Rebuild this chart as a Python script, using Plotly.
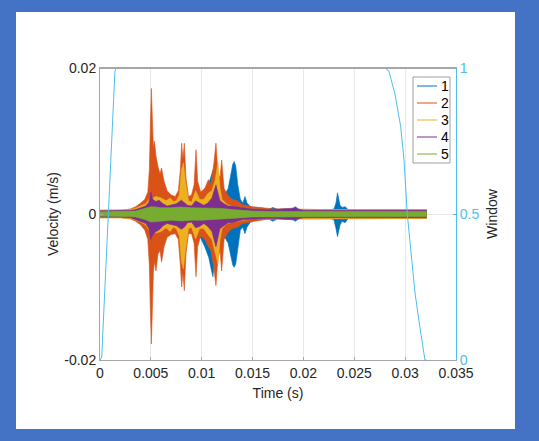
import numpy as np
import plotly.graph_objects as go

# ---------------------------------------------------------------------------
# Velocity records of five channels, drawn as their oscillation envelopes.
# Times in ms, envelope amplitudes (upper / lower) in mm/s.
# ---------------------------------------------------------------------------
names = ["1", "2", "3", "4", "5"]
colors = ["#0072BD", "#D95319", "#EDB120", "#7E2F8E", "#77AC30"]

s1_t = [0, 2, 3, 4, 5, 6, 7, 8, 9, 9.8, 10.3, 10.7, 11.0, 11.1, 11.25, 11.5, 11.8, 12.2,
        12.6, 12.9, 13.05, 13.2, 13.35, 13.55, 13.8, 14.05, 14.25, 14.45, 14.8, 15.3, 16,
        16.5, 17, 17.5, 18, 18.8, 19.2, 19.6, 20.5, 21.5, 22.5, 23.0, 23.2, 23.35, 23.45,
        23.6, 23.8, 24.1, 24.4, 25, 26, 28, 30, 32.1]
s1_up = [0.4, 0.4, 0.5, 1.0, 2.0, 2.0, 1.8, 2.0, 2.0, 2.5, 3.5, 4.2, 5.5, 6.0, 4.5, 3.0,
         2.5, 2.5, 3.5, 5.5, 6.8, 7.2, 6.5, 4.0, 2.0, 1.5, 2.4, 1.5, 1.0, 0.8, 0.8, 0.6,
         0.9, 0.6, 0.7, 0.6, 1.0, 0.6, 0.5, 0.5, 0.5, 0.7, 1.5, 2.9, 2.0, 1.2, 0.9, 1.0,
         0.6, 0.5, 0.5, 0.5, 0.5, 0.5]
s1_lo = [0.4, 0.4, 0.5, 1.0, 2.0, 2.0, 1.8, 2.0, 2.2, 3.0, 4.5, 6.0, 8.0, 8.6, 6.5, 3.5,
         3.0, 3.0, 4.0, 6.0, 7.0, 7.3, 6.8, 4.5, 2.2, 1.8, 2.7, 1.8, 1.1, 0.8, 0.8, 0.6,
         1.0, 0.6, 0.7, 0.6, 1.0, 0.6, 0.5, 0.5, 0.5, 0.8, 2.0, 3.1, 2.5, 1.5, 1.0, 1.2,
         0.6, 0.5, 0.5, 0.5, 0.5, 0.5]

s2_t = [0, 1, 2, 3, 3.5, 4.0, 4.4, 4.7, 4.85, 4.95, 5.05, 5.15, 5.25, 5.35, 5.5, 5.7,
        5.9, 6.05, 6.3, 6.6, 7.0, 7.4, 7.7, 7.9, 8.03, 8.15, 8.29, 8.45, 8.7, 9.0, 9.25,
        9.44, 9.6, 9.9, 10.3, 10.65, 10.9, 11.2, 11.4, 11.6, 11.8, 11.96, 12.2, 12.6,
        13.0, 13.5, 14.0, 15, 16, 17, 18, 20, 22, 24, 26, 28, 30, 32.1]
s2_up = [0.5, 0.5, 0.5, 0.7, 1.0, 1.5, 2.0, 3.0, 6.0, 12.0, 17.2, 13.0, 9.0, 10.0, 8.0,
         6.5, 5.5, 6.3, 4.5, 3.2, 2.6, 2.4, 3.2, 6.0, 9.7, 7.5, 9.7, 5.0, 2.4, 2.6, 4.0,
         8.8, 4.5, 3.0, 3.5, 4.7, 4.0, 7.0, 9.7, 5.5, 5.0, 7.4, 3.5, 2.5, 2.0, 1.8, 1.3,
         1.0, 0.8, 0.7, 0.7, 0.6, 0.6, 0.6, 0.6, 0.6, 0.6, 0.6]
s2_lo = [0.5, 0.5, 0.5, 0.7, 1.0, 1.5, 2.2, 3.5, 7.0, 13.0, 17.8, 13.0, 8.0, 6.5, 7.8,
         5.5, 5.0, 6.6, 4.5, 3.2, 2.8, 2.7, 3.5, 7.0, 10.0, 8.0, 10.5, 5.5, 2.7, 2.7, 4.0,
         8.6, 4.5, 3.0, 3.5, 4.5, 5.0, 7.5, 9.8, 6.0, 5.0, 7.8, 3.5, 2.5, 2.0, 1.8, 1.3,
         1.0, 0.8, 0.7, 0.7, 0.6, 0.6, 0.6, 0.6, 0.6, 0.6, 0.6]

s3_t = [0, 2, 3, 3.5, 4, 4.5, 4.8, 5.0, 5.2, 5.5, 6.0, 6.5, 6.9, 7.2, 7.5, 7.8, 8.0,
        8.2, 8.4, 8.7, 9.0, 9.4, 9.8, 10.2, 10.6, 11.0, 11.3, 11.6, 11.8, 12.0, 12.5, 13,
        14, 15, 17, 20, 24, 28, 32.1]
s3_up = [0.55, 0.55, 0.6, 0.8, 1.1, 1.4, 2.0, 2.6, 2.2, 2.4, 2.2, 1.8, 2.2, 1.7, 1.8,
         2.6, 6.0, 7.0, 4.5, 1.8, 1.6, 3.2, 2.0, 2.0, 2.8, 3.2, 4.5, 7.0, 3.5, 2.0, 1.3,
         1.1, 0.9, 0.7, 0.6, 0.6, 0.6, 0.6, 0.6]
s3_lo = [0.55, 0.55, 0.6, 0.8, 1.1, 1.5, 2.2, 2.8, 2.5, 2.6, 2.4, 1.9, 2.4, 1.8, 2.0,
         3.0, 6.5, 7.5, 5.0, 2.0, 1.8, 3.4, 2.0, 2.0, 2.8, 3.5, 5.0, 6.8, 3.5, 2.0, 1.3,
         1.1, 0.9, 0.7, 0.6, 0.6, 0.6, 0.6, 0.6]

s4_t = [0, 2, 3, 3.5, 4, 4.5, 4.8, 5.0, 5.2, 5.5, 5.8, 6.2, 6.6, 7.0, 7.5, 8.0, 8.3,
        8.6, 9.0, 9.4, 9.8, 10.2, 10.6, 11.0, 11.4, 11.8, 12.2, 12.6, 13.0, 13.5, 14, 15,
        16, 17, 18, 19, 20, 22, 24, 26, 28, 30, 32.1]
s4_up = [0.45, 0.45, 0.5, 0.6, 0.9, 1.1, 1.6, 3.0, 2.0, 1.7, 1.9, 1.4, 1.1, 1.2, 1.4,
         1.9, 1.6, 1.2, 1.1, 1.8, 1.5, 1.2, 1.5, 2.2, 4.0, 1.8, 1.4, 1.1, 1.1, 1.0, 0.8,
         0.7, 0.65, 0.6, 0.7, 0.8, 0.5, 0.5, 0.5, 0.5, 0.5, 0.5, 0.5]
s4_lo = [0.45, 0.45, 0.5, 0.7, 1.0, 1.3, 2.0, 3.5, 2.8, 2.4, 2.2, 1.6, 1.3, 1.4, 1.6,
         2.1, 1.8, 1.2, 1.1, 1.9, 1.7, 1.3, 1.7, 2.4, 4.5, 2.0, 1.6, 1.2, 1.2, 1.0, 0.8,
         0.7, 0.65, 0.6, 0.7, 0.8, 0.5, 0.5, 0.5, 0.5, 0.5, 0.5, 0.5]

s5_t = [0, 1, 2, 3, 3.5, 4, 4.5, 5, 5.5, 6, 7, 8, 9, 10, 11, 12, 13, 14, 15, 17, 20,
        25, 30, 32.1]
s5_up = [0.3, 0.3, 0.3, 0.35, 0.4, 0.6, 0.8, 1.0, 0.95, 0.85, 0.85, 0.95, 0.85, 0.85,
         0.85, 0.75, 0.6, 0.5, 0.4, 0.35, 0.35, 0.35, 0.35, 0.35]
s5_lo = [0.3, 0.3, 0.3, 0.35, 0.4, 0.6, 0.8, 1.1, 1.0, 0.95, 0.85, 0.95, 0.85, 0.85,
         0.85, 0.75, 0.6, 0.5, 0.4, 0.35, 0.35, 0.35, 0.35, 0.35]

series = [(s1_t, s1_up, s1_lo), (s2_t, s2_up, s2_lo), (s3_t, s3_up, s3_lo),
          (s4_t, s4_up, s4_lo), (s5_t, s5_up, s5_lo)]

# Taper window (right axis), time in ms
win_t = [0, 0.17, 0.5, 0.82, 1.15, 1.47, 1.6, 28.0, 28.4, 29.0, 29.56, 29.89, 30.21,
         30.64, 30.97, 31.46, 31.95, 32.1]
win_v = [0, 0.01, 0.26, 0.5, 0.75, 0.99, 1.0, 1.0, 0.99, 0.91, 0.80, 0.685, 0.5,
         0.34, 0.23, 0.11, 0.0, 0.0]

x_ticks = [0, 0.005, 0.01, 0.015, 0.02, 0.025, 0.03, 0.035]
x_tick_labels = ["0", "0.005", "0.01", "0.015", "0.02", "0.025", "0.03", "0.035"]
y_ticks = [-0.02, 0, 0.02]
y_tick_labels = ["-0.02", "0", "0.02"]
y2_ticks = [0, 0.5, 1]
y2_tick_labels = ["0", "0.5", "1"]

# ---------------------------------------------------------------------------
W, H = 539, 441
L, R, T, B = 100, 456, 68, 360          # plot area in pixels
WIN_COLOR = "#4DBEEE"
FRAME = "#a6a6a6"
TXT = "#262626"
FONT = "Liberation Sans, Arial, sans-serif"


def px(xp):
    return (xp - L) / (R - L)


def py(yp):
    return (B - yp) / (B - T)


fig = go.Figure()

# window curve first, so the envelopes and axis frame sit over it
fig.add_trace(go.Scatter(
    x=np.array(win_t) / 1000.0, y=win_v, yaxis="y2", mode="lines",
    line=dict(color=WIN_COLOR, width=1), name="Window", showlegend=False))

for (t, up, lo), name, col in zip(series, names, colors):
    ts = np.array(t) / 1000.0
    upper = np.array(up) / 1000.0
    lower = -np.array(lo) / 1000.0
    fig.add_trace(go.Scatter(
        x=np.concatenate([ts, ts[::-1]]),
        y=np.concatenate([upper, lower[::-1]]),
        fill="toself", fillcolor=col, mode="lines",
        line=dict(color=col, width=0.6), name=name, showlegend=False,
        hoverinfo="skip"))

shapes = [
    # white panel on the blue frame
    dict(type="rect", xref="paper", yref="paper", layer="below",
         x0=px(16), x1=px(515), y0=py(429), y1=py(12),
         fillcolor="white", line=dict(width=0)),
    # top edge of the axes box, kept above the traces
    dict(type="line", xref="paper", yref="paper", layer="above",
         x0=0, x1=1, y0=1, y1=1, line=dict(color=FRAME, width=2)),
    # legend box
    dict(type="rect", xref="paper", yref="paper",
         x0=px(413), x1=px(450), y0=py(163), y1=py(77),
         fillcolor="white", line=dict(color="#a0a0a0", width=1)),
]
annotations = []
leg_y = [86, 103, 120, 137, 154]
for name, col, yy in zip(names, colors, leg_y):
    shapes.append(dict(type="line", xref="paper", yref="paper",
                       x0=px(417), x1=px(437), y0=py(yy), y1=py(yy),
                       line=dict(color=col, width=1)))
    annotations.append(dict(xref="paper", yref="paper", x=px(439), y=py(yy),
                            text=name, showarrow=False, xanchor="left",
                            yanchor="middle",
                            font=dict(size=14, color="#000000", family=FONT)))

fig.update_layout(
    width=W, height=H,
    margin=dict(l=L, r=W - R, t=T, b=H - B, pad=0),
    paper_bgcolor="#4472C4", plot_bgcolor="white",
    font=dict(family=FONT, size=14, color=TXT),
    showlegend=False,
    shapes=shapes, annotations=annotations,
    xaxis=dict(range=[0, 0.035], tickvals=x_ticks, ticktext=x_tick_labels,
               showgrid=True, gridcolor="#e8e8e8", gridwidth=1,
               zeroline=False, showline=True, mirror=True, linecolor=FRAME,
               ticks="inside", ticklen=3, tickcolor=FRAME,
               tickfont=dict(size=14, color=TXT),
               title=dict(text="Time (s)", standoff=8, font=dict(size=14, color=TXT))),
    yaxis=dict(range=[-0.02, 0.02], tickvals=y_ticks, ticktext=y_tick_labels,
               showgrid=True, gridcolor="#e8e8e8", gridwidth=1,
               zeroline=False, showline=True, linecolor=FRAME,
               ticks="inside", ticklen=3, tickcolor=FRAME,
               tickfont=dict(size=14, color=TXT),
               title=dict(text="Velocity (m/s)", standoff=2,
                          font=dict(size=14, color=TXT))),
    yaxis2=dict(range=[0, 1], overlaying="y", side="right",
                tickvals=y2_ticks, ticktext=y2_tick_labels,
                showgrid=False, zeroline=False, showline=True,
                linecolor=WIN_COLOR, ticks="inside", ticklen=3,
                tickcolor=WIN_COLOR, tickfont=dict(size=14, color=WIN_COLOR),
                title=dict(text="Window", standoff=8,
                           font=dict(size=14, color=TXT))),
)

fig.write_html("out.html")
